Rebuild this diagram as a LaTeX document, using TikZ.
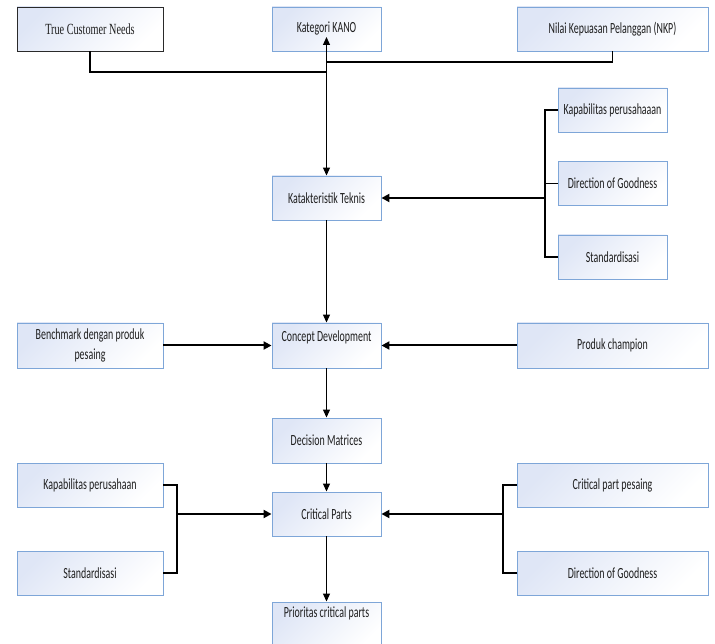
\documentclass[tikz,border=0pt]{standalone}
\usepackage{fontspec}
\setmainfont{Carlito}[FakeStretch=0.64]
\newfontfamily\serifcond{Liberation Serif}[FakeStretch=0.66]
\usetikzlibrary{arrows.meta}
\definecolor{boxblue}{HTML}{7EA6D8}
\definecolor{boxfill}{HTML}{DFE6F6}
\definecolor{txt}{HTML}{1E1E1E}
\definecolor{darkborder}{HTML}{2A2A2A}
\begin{document}
\begin{tikzpicture}[x=1pt,y=-1pt,
  font=\fontsize{15.5}{20}\selectfont,
  box/.style={draw=boxblue, line width=0.9pt, top color=boxfill, bottom color=white, shading angle=45,
    minimum height=44pt, inner sep=0pt, text=txt, align=center},
  wl/.style={minimum width=146pt},
  wm/.style={minimum width=109pt},
  wr/.style={minimum width=191pt},
  lbl/.style={inner sep=0pt, text=txt, align=center},
  ln/.style={line width=1.1pt, black},
  arr/.style={line width=1.1pt, black, -{Triangle[length=8pt,width=7pt]}},
  tarr/.style={line width=2pt, black, -{Triangle[length=8pt,width=8pt]}}
]
\useasboundingbox (0,0) rectangle (715,644);

% top row
\node[box, wl, draw=darkborder, font=\serifcond\fontsize{15.5}{18}\selectfont] (tcn) at (90,29) {True Customer Needs};
\node[box, wm] (kano) at (326.5,29) {Kategori KANO};
\node[box, wr] (nkp) at (612.5,29) {Nilai Kepuasan Pelanggan (NKP)};

% technical characteristics
\node[box, wm] (kt) at (326.5,198) {Katakteristik Teknis};
\node[box, wm] (kap1) at (612.5,110) {Kapabilitas perusahaaan};
\node[box, wm] (dog1) at (612.5,183.5) {Direction of Goodness};
\node[box, wm] (std1) at (612.5,257) {Standardisasi};

% concept development row
\node[box, wl, minimum height=45pt] (bm) at (90,345.5) {Benchmark dengan produk\\pesaing};
\node[box, wm, minimum height=45pt] (cd) at (326.5,345.5) {};
\node[lbl] (cdt) at (326.5,337) {Concept Development};
\node[box, wr, minimum height=45pt] (pc) at (612.5,345.5) {Produk champion};

% decision / critical parts
\node[box, wm, minimum height=45pt] (dm) at (326.5,440.5) {Decision Matrices};
\node[box, wm] (cp) at (326.5,514) {Critical Parts};
\node[box, wl] (kap2) at (90,485) {Kapabilitas perusahaan};
\node[box, wl] (std2) at (90,573) {Standardisasi};
\node[box, wr] (cps) at (612.5,485) {Critical part pesaing};
\node[box, wr] (dog2) at (612.5,573) {Direction of Goodness};
\node[box, wm, minimum height=48pt] (pr) at (326.5,626) {};
\node[lbl] (prt) at (326.5,613) {Prioritas critical parts};

% top connectors
\coordinate (jn) at (326.5,72);
\coordinate (jk) at (326.5,62);
\coordinate (kanotip) at (326.5,37);
\draw[ln] (tcn.south) |- (jn);
\draw[ln] (nkp.south) |- (jk);
\draw[arr] (jn) -- (kanotip);
\draw[arr] (jn) -- (kt.north);

% right bus to technical characteristics
\coordinate (rb) at (545,198);
\draw[ln] (kap1.west) -| (rb) |- (std1.west);
\draw[ln] (dog1.west) -- (dog1.west -| rb);
\draw[tarr] (rb) -- (kt.east);

% concept development
\draw[arr] (kt.south) -- (cd.north);
\draw[tarr] (bm.east) -- (cd.west);
\draw[tarr] (pc.west) -- (cd.east);
\draw[arr] (cd.south) -- (dm.north);
\draw[arr] (dm.south) -- (cp.north);
\draw[arr] (cp.south) -- (pr.north);

% left bus to critical parts
\coordinate (lb) at (177,514);
\draw[ln] (kap2.east) -| (lb) |- (std2.east);
\draw[tarr] (lb) -- (cp.west);

% right bus to critical parts
\coordinate (rb2) at (503,514);
\draw[ln] (cps.west) -| (rb2) |- (dog2.west);
\draw[tarr] (rb2) -- (cp.east);
\end{tikzpicture}
\end{document}
